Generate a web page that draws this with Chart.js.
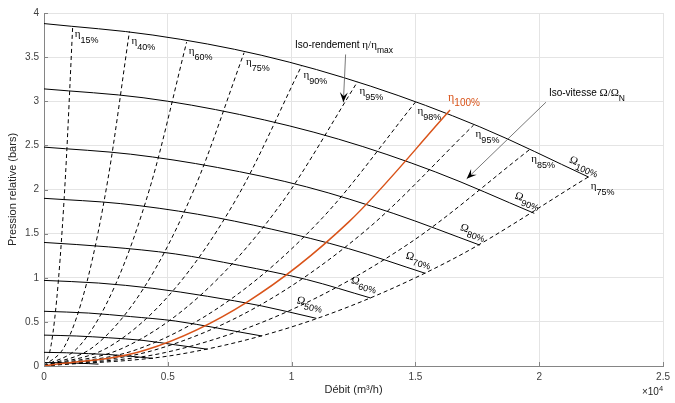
<!DOCTYPE html>
<html>
<head>
<meta charset="utf-8">
<script src="https://cdn.jsdelivr.net/npm/chart.js@4.4.1/dist/chart.umd.min.js"></script>
<style>
  html, body { margin: 0; padding: 0; background: #fff; }
  #wrap { width: 675px; height: 403px; }
</style>
</head>
<body>
<div id="wrap"><canvas id="chart" width="675" height="403"></canvas></div>
<script>
// Courbes iso-vitesse (Omega / Omega_N, en %), débit en 10^4 m3/h, pression en bars
const speedPct = [100, 90, 80, 70, 60, 50, 40, 30, 20, 10];
const speedQ = [
  [0, 0.44, 0.88, 1.32, 1.76, 2.20],
  [0, 0.40, 0.79, 1.19, 1.58, 1.98],
  [0, 0.35, 0.70, 1.06, 1.41, 1.76],
  [0, 0.31, 0.62, 0.92, 1.23, 1.54],
  [0, 0.26, 0.53, 0.79, 1.06, 1.32],
  [0, 0.22, 0.44, 0.66, 0.88, 1.10],
  [0, 0.18, 0.35, 0.53, 0.70, 0.88],
  [0, 0.13, 0.26, 0.40, 0.53, 0.66],
  [0, 0.09, 0.18, 0.26, 0.35, 0.44],
  [0, 0.04, 0.09, 0.13, 0.18, 0.22]
];
const speedH = [
  [3.88, 3.75, 3.52, 3.17, 2.71, 2.14],
  [3.14, 3.04, 2.85, 2.57, 2.20, 1.73],
  [2.48, 2.40, 2.25, 2.03, 1.73, 1.37],
  [1.90, 1.84, 1.72, 1.55, 1.33, 1.05],
  [1.40, 1.35, 1.27, 1.14, 0.98, 0.77],
  [0.97, 0.94, 0.88, 0.79, 0.68, 0.54],
  [0.62, 0.60, 0.56, 0.51, 0.43, 0.34],
  [0.35, 0.34, 0.32, 0.29, 0.24, 0.19],
  [0.155, 0.15, 0.14, 0.13, 0.11, 0.086],
  [0.039, 0.038, 0.035, 0.032, 0.027, 0.021]
];

// Courbes iso-rendement (eta / eta_max)
const effPct = ['15%', '40%', '60%', '75%', '90%', '95%', '98%', '100%', '95%', '85%', '75%'];
const effQ = [
  [0, 0.029, 0.058, 0.087, 0.116],
  [0, 0.086, 0.173, 0.259, 0.345],
  [0, 0.144, 0.288, 0.432, 0.576],
  [0, 0.202, 0.404, 0.606, 0.808],
  [0, 0.26, 0.52, 0.78, 1.04],
  [0, 0.317, 0.633, 0.95, 1.266],
  [0, 0.375, 0.75, 1.125, 1.50],
  [0, 0.41, 0.82, 1.23, 1.64],
  [0, 0.434, 0.868, 1.301, 1.735],
  [0, 0.49, 0.98, 1.47, 1.96],
  [0, 0.55, 1.10, 1.65, 2.20]
];
const effH = [
  [0, 0.241, 0.965, 2.17, 3.86],
  [0, 0.237, 0.948, 2.13, 3.79],
  [0, 0.229, 0.918, 2.06, 3.67],
  [0, 0.222, 0.888, 2.00, 3.55],
  [0, 0.213, 0.85, 1.91, 3.40],
  [0, 0.201, 0.804, 1.81, 3.22],
  [0, 0.187, 0.748, 1.68, 2.99],
  [0, 0.181, 0.725, 1.63, 2.90],
  [0, 0.171, 0.683, 1.54, 2.73],
  [0, 0.153, 0.613, 1.38, 2.45],
  [0, 0.134, 0.536, 1.21, 2.145]
];
const bestIdx = 7;          // eta 100 %
const labelledSpeeds = 6;   // Omega 100 % .. 50 % ont une étiquette

const xTicks = [0, 0.5, 1, 1.5, 2, 2.5];
const yTicks = [0, 0.5, 1, 1.5, 2, 2.5, 3, 3.5, 4];

const ORANGE = '#D95319';
const SANS = '"Liberation Sans", Arial, sans-serif';
const GREEK = '"Liberation Serif", "DejaVu Serif", serif';

// annotations (coordonnées données)
const noteEta = { text: [1.014, 3.598], from: [1.218, 3.53], to: [1.209, 2.989] };
const noteOmega = { text: [2.039, 3.065], from: [2.027, 2.989], to: [1.707, 2.121] };

const toPts = (qs, hs) => qs.map((q, i) => ({ x: q, y: hs[i] }));

const datasets = [];
datasets.push({
  data: toPts(effQ[bestIdx], effH[bestIdx]),
  borderColor: ORANGE, borderWidth: 1.5
});
speedPct.forEach((p, i) => {
  datasets.push({ data: toPts(speedQ[i], speedH[i]), borderColor: '#000', borderWidth: 1 });
});
effPct.forEach((p, i) => {
  if (i === bestIdx) return;
  datasets.push({ data: toPts(effQ[i], effH[i]), borderColor: '#000', borderWidth: 1, borderDash: [4, 3] });
});

function drawParts(ctx, x, y, parts) {
  let cx = x;
  parts.forEach(p => {
    ctx.font = p.font;
    ctx.fillText(p.text, cx, y + (p.dy || 0));
    cx += ctx.measureText(p.text).width;
  });
  return cx - x;
}

function arrow(ctx, x0, y0, x1, y1) {
  ctx.strokeStyle = '#555';
  ctx.lineWidth = 0.8;
  ctx.beginPath(); ctx.moveTo(x0, y0); ctx.lineTo(x1, y1); ctx.stroke();
  const len = Math.hypot(x1 - x0, y1 - y0);
  const ux = (x1 - x0) / len, uy = (y1 - y0) / len;
  const L = 10, W = 4;
  ctx.fillStyle = '#000';
  ctx.beginPath();
  ctx.moveTo(x1, y1);
  ctx.lineTo(x1 - L * ux - W * uy, y1 - L * uy + W * ux);
  ctx.lineTo(x1 - 0.6 * L * ux, y1 - 0.6 * L * uy);
  ctx.lineTo(x1 - L * ux + W * uy, y1 - L * uy - W * ux);
  ctx.closePath();
  ctx.fill();
}

const overlay = {
  id: 'overlay',
  afterDatasetsDraw(chart) {
    const { ctx, chartArea: a, scales: { x, y } } = chart;
    ctx.save();

    // graduations vers l'intérieur
    ctx.strokeStyle = '#858585';
    ctx.lineWidth = 1;
    ctx.beginPath();
    xTicks.forEach(v => {
      const px = Math.round(x.getPixelForValue(v)) + 0.5;
      ctx.moveTo(px, a.bottom); ctx.lineTo(px, a.bottom - 4);
    });
    yTicks.forEach(v => {
      const py = Math.round(y.getPixelForValue(v)) + 0.5;
      ctx.moveTo(a.left, py); ctx.lineTo(a.left + 4, py);
    });
    ctx.stroke();

    ctx.textBaseline = 'alphabetic';
    ctx.textAlign = 'left';

    // étiquettes eta
    effPct.forEach((p, i) => {
      const n = effQ[i].length - 1;
      const tx = x.getPixelForValue(effQ[i][n]);
      const ty = y.getPixelForValue(effH[i][n]);
      if (i === bestIdx) {
        ctx.fillStyle = ORANGE;
        drawParts(ctx, tx - 2, ty - 9, [
          { text: 'η', font: `12px ${GREEK}` },
          { text: p, font: `10px ${SANS}`, dy: 4.5 }
        ]);
      } else {
        ctx.fillStyle = '#000';
        drawParts(ctx, tx + 2, ty + 12, [
          { text: 'η', font: `11px ${GREEK}` },
          { text: p, font: `9px ${SANS}`, dy: 6 }
        ]);
      }
    });

    // étiquettes Omega, tournées le long de la courbe
    ctx.fillStyle = '#000';
    for (let i = 0; i < labelledSpeeds; i++) {
      const n = speedQ[i].length - 1;
      const ex = x.getPixelForValue(speedQ[i][n]), ey = y.getPixelForValue(speedH[i][n]);
      const px = x.getPixelForValue(speedQ[i][n - 1]), py = y.getPixelForValue(speedH[i][n - 1]);
      const ang = 0.85 * Math.atan2(ey - py, ex - px);
      ctx.save();
      ctx.translate(ex - 20, ey - 15);
      ctx.rotate(ang);
      drawParts(ctx, 0, 0, [
        { text: 'Ω', font: `11px ${GREEK}` },
        { text: speedPct[i] + '%', font: `9px ${SANS}`, dy: 4.5 }
      ]);
      ctx.restore();
    }

    // annotations
    ctx.fillStyle = '#000';
    drawParts(ctx, x.getPixelForValue(noteEta.text[0]), y.getPixelForValue(noteEta.text[1]), [
      { text: 'Iso-rendement ', font: `10px ${SANS}` },
      { text: 'η/η', font: `11px ${GREEK}` },
      { text: 'max', font: `8.5px ${SANS}`, dy: 5 }
    ]);
    drawParts(ctx, x.getPixelForValue(noteOmega.text[0]), y.getPixelForValue(noteOmega.text[1]), [
      { text: 'Iso-vitesse ', font: `10px ${SANS}` },
      { text: 'Ω/Ω', font: `11px ${GREEK}` },
      { text: 'N', font: `8.5px ${SANS}`, dy: 5 }
    ]);
    arrow(ctx, x.getPixelForValue(noteEta.from[0]), y.getPixelForValue(noteEta.from[1]),
      x.getPixelForValue(noteEta.to[0]), y.getPixelForValue(noteEta.to[1]));
    arrow(ctx, x.getPixelForValue(noteOmega.from[0]), y.getPixelForValue(noteOmega.from[1]),
      x.getPixelForValue(noteOmega.to[0]), y.getPixelForValue(noteOmega.to[1]));

    // x10^4
    ctx.fillStyle = '#262626';
    ctx.font = `10px ${SANS}`;
    const w1 = ctx.measureText('×10').width;
    ctx.font = `7.5px ${SANS}`;
    const w2 = ctx.measureText('4').width;
    drawParts(ctx, a.right - w1 - w2, 395, [
      { text: '×10', font: `10px ${SANS}` },
      { text: '4', font: `7.5px ${SANS}`, dy: -4 }
    ]);

    ctx.restore();
  }
};

new Chart(document.getElementById('chart'), {
  type: 'line',
  data: { datasets },
  options: {
    responsive: false,
    animation: false,
    devicePixelRatio: 1,
    layout: { padding: { left: 0, right: 7, top: 13, bottom: 0 } },
    elements: {
      point: { radius: 0 },
      line: { cubicInterpolationMode: 'monotone', fill: false }
    },
    plugins: { legend: { display: false }, tooltip: { enabled: false } },
    scales: {
      x: {
        type: 'linear', min: 0, max: 2.5,
        afterBuildTicks: s => { s.ticks = xTicks.map(v => ({ value: v })); },
        ticks: { color: '#404040', font: { size: 10, family: SANS }, padding: 5, maxRotation: 0, callback: v => String(v) },
        grid: { color: '#e4e4e4', drawTicks: false },
        border: { color: '#858585' },
        title: { display: true, text: 'Débit (m³/h)', color: '#262626', font: { size: 11, family: SANS }, padding: { top: 0, bottom: 6 } },
        afterFit: s => { s.height = 37; }
      },
      y: {
        type: 'linear', min: 0, max: 4,
        afterBuildTicks: s => { s.ticks = yTicks.map(v => ({ value: v })); },
        ticks: { color: '#404040', font: { size: 10, family: SANS }, padding: 5, callback: v => String(v) },
        grid: { color: '#e4e4e4', drawTicks: false },
        border: { color: '#858585' },
        title: { display: true, text: 'Pression relative (bars)', color: '#262626', font: { size: 11, family: SANS }, padding: { top: 6, bottom: 0 } },
        afterFit: s => { s.width = 44; }
      }
    }
  },
  plugins: [overlay]
});
</script>
</body>
</html>
